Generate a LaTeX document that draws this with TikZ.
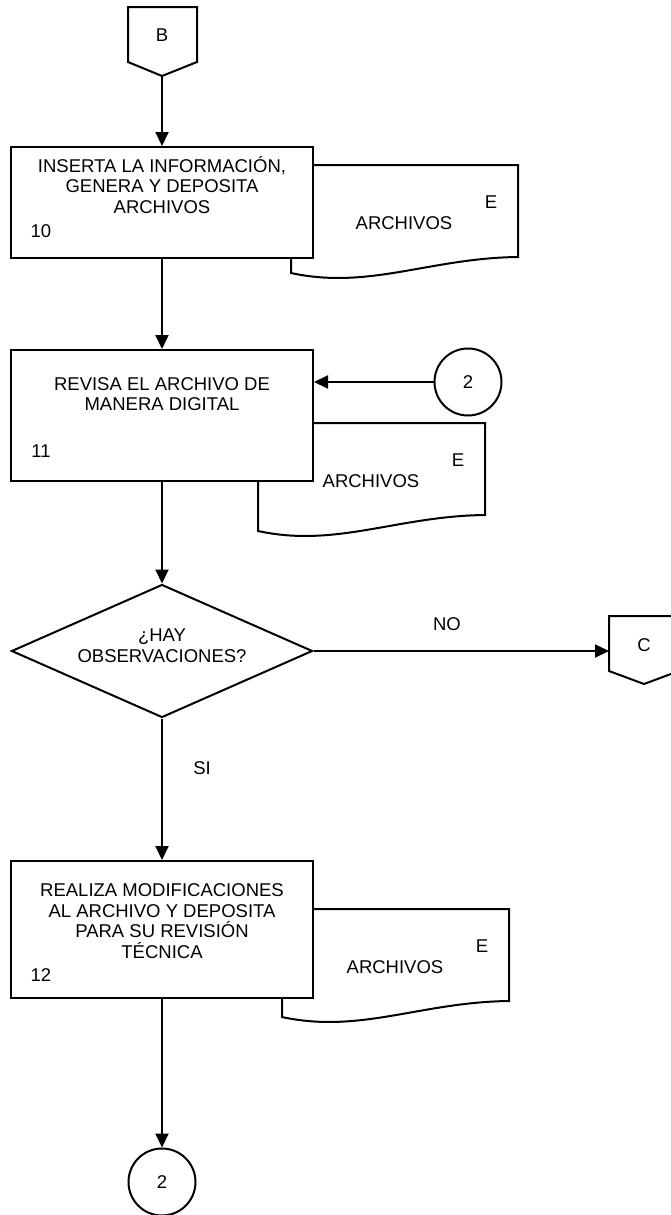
\documentclass[tikz,border=0pt]{standalone}
\usepackage{fontspec}
\setmainfont{Liberation Sans}
\usetikzlibrary{arrows.meta,shapes.geometric}
\begin{document}
\begin{tikzpicture}[x=.5pt,y=-.5pt,line width=1pt,
  flecha/.style={-{Triangle[length=7pt,width=6.5pt]}},
  caja/.style={draw,fill=white,minimum width=151pt,inner sep=0pt},
  txt/.style={align=center,inner sep=0pt,font=\fontsize{9.25}{10.3}\selectfont},
  conec/.style={draw,circle,minimum size=33.5pt,inner sep=0pt,font=\fontsize{9.25}{10.3}\selectfont}]
\useasboundingbox (0,0) rectangle (670,1215);
% documentos (detras de las cajas)
\foreach \l/\t/\n in {291/165/1,258/423/2,282/909/3}{
  \draw[fill=white] (\l,\t) -- (\l+227,\t) -- (\l+227,\t+92) .. controls (\l+139,\t+93) and (\l+78,\t+125) .. (\l,\t+108) -- cycle;
  \node[txt] (e\n) at (\l+200,\t+37) {E};
  \node[txt] (ar\n) at (\l+113,\t+58) {ARCHIVOS};}
% conector B
\draw (128,7) -- (197,7) -- (197,62) -- (162,76) -- (128,62) -- cycle;
\node[txt] (B) at (162,35) {B}; \coordinate (Bp) at (162,76);
% actividades
\node[caja,minimum height=55.5pt] (b10) at (162,202.5) {};
\node[txt] (t10) at (162,185) {INSERTA LA INFORMACIÓN,\\GENERA Y DEPOSITA\\ARCHIVOS};
\node[txt] (n10) at (41,231) {10};
\node[caja,minimum height=65.5pt] (b11) at (162,415.5) {};
\node[txt] (t11) at (162,394) {REVISA EL ARCHIVO DE\\MANERA DIGITAL};
\node[txt] (n11) at (41,451) {11};
\node[conec] (c2a) at (468,382) {2};
\node[draw,diamond,minimum width=150.5pt,minimum height=66.5pt,inner sep=0pt] (q) at (162,651) {};
\node[txt] (tq) at (162,646) {¿HAY\\OBSERVACIONES?};
% conector C
\draw (609,616) -- (679,616) -- (679,671) -- (644,684) -- (609,671) -- cycle;
\node[txt] (C) at (644,645) {C}; \coordinate (Cw) at (609,651);
\node[caja,minimum height=68.5pt] (b12) at (162,929.5) {};
\node[txt] (t12) at (162,921) {REALIZA MODIFICACIONES\\AL ARCHIVO Y DEPOSITA\\PARA SU REVISIÓN\\TÉCNICA};
\node[txt] (n12) at (41,975) {12};
\node[conec] (c2b) at (162,1182) {2};
% flechas
\draw[flecha] (Bp) -- (b10);
\draw[flecha] (b10) -- (b11);
\draw[flecha] (c2a) -- (c2a -| b11.east);
\draw[flecha] (b11) -- (q);
\draw[flecha] (q.east) -- (Cw);
\node[txt] (no) at (447,624) {NO};
\draw[flecha] (q) -- (b12);
\node[txt] (si) at (202,768) {SI};
\draw[flecha] (b12) -- (c2b);
\end{tikzpicture}
\end{document}
